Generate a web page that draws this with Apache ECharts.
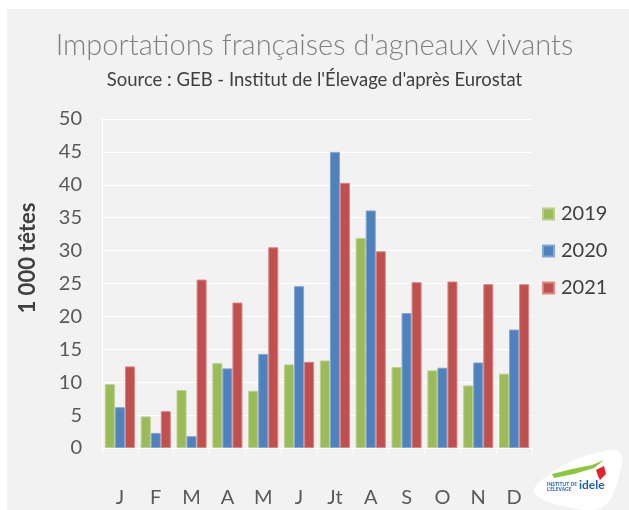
<!DOCTYPE html>
<html>
<head>
<meta charset="utf-8">
<script src="https://cdn.jsdelivr.net/npm/echarts@6/dist/echarts.min.js"></script>
<style>
  html, body { margin: 0; padding: 0; background: #ffffff; }
  #chart { width: 629px; height: 510px; }
</style>
</head>
<body>
<div id="chart"></div>
<script>
var chartDom = document.getElementById('chart');
var myChart = echarts.init(chartDom);

var months = ['J', 'F', 'M', 'A', 'M', 'J', 'Jt', 'A', 'S', 'O', 'N', 'D'];
var data2019 = [9.7, 4.8, 8.8, 12.9, 8.7, 12.7, 13.3, 31.9, 12.3, 11.8, 9.5, 11.3];
var data2020 = [6.2, 2.3, 1.8, 12.1, 14.3, 24.6, 45.0, 36.1, 20.5, 12.2, 13.0, 18.0];
var data2021 = [12.4, 5.6, 25.6, 22.1, 30.5, 13.1, 40.3, 29.9, 25.2, 25.3, 24.9, 24.9];

var font = 'Lato';

function barSeries(name, data, color, border) {
  return {
    name: name,
    type: 'bar',
    data: data,
    barGap: '0%',
    barCategoryGap: '16%',
    itemStyle: { color: color, borderColor: border, borderWidth: 1 }
  };
}

var option = {
  backgroundColor: '#ffffff',
  graphic: [
    { type: 'rect', x: 7, y: 9, shape: { width: 700, height: 600 }, style: { fill: '#f2f2f2' }, z: -10 },
    // axis title, placed like the original (above the axis middle)
    {
      type: 'text', x: 28, y: 258, rotation: Math.PI / 2,
      style: { text: '1 000 têtes', fill: '#404040', font: 'bold 22px ' + font, align: 'center', verticalAlign: 'middle' }
    },
    {
      type: 'group', x: 530, y: 448, z: 20,
      children: [
        { type: 'polygon', shape: { points: [[4, 42], [20, 26], [45, 12], [70, 4], [86, 2], [92, 8], [90, 24], [84, 44], [74, 58], [60, 62], [34, 58], [14, 52]], smooth: 0.4 }, style: { fill: '#ffffff' } },
        { type: 'polygon', shape: { points: [[22, 26], [42, 21], [62, 17], [74, 12], [64, 20], [44, 26], [24, 30]] }, style: { fill: '#8cc63f' } },
        { type: 'polygon', shape: { points: [[66, 22], [74, 18], [76, 26], [70, 32], [68, 28]] }, style: { fill: '#e3232d' } },
        { type: 'text', x: 49, y: 31, style: { text: 'idele', fill: '#1f5fa8', font: 'bold 12px ' + font } },
        { type: 'text', x: 17, y: 34, style: { text: 'INSTITUT DE\nL\'ÉLEVAGE', fill: '#1f5fa8', font: 'bold 5px ' + font } }
      ]
    }
  ],
  title: [
    {
      text: "Importations françaises d'agneaux vivants",
      left: 'center', top: 26,
      textStyle: { fontFamily: font, fontWeight: 300, fontSize: 29, color: '#808080' }
    },
    {
      text: "Source : GEB - Institut de l'Élevage d'après Eurostat",
      left: 'center', top: 66,
      textStyle: { fontFamily: font, fontWeight: 'normal', fontSize: 18.5, color: '#404040' }
    }
  ],
  legend: {
    orient: 'vertical',
    left: 537, top: 199,
    itemWidth: 11, itemHeight: 11,
    itemGap: 17,
    icon: 'rect',
    textStyle: { fontFamily: font, fontSize: 20, color: '#404040', padding: [0, 0, 0, 2] },
    data: ['2019', '2020', '2021']
  },
  grid: { left: 102, right: 97, top: 119, bottom: 62, containLabel: false },
  xAxis: {
    type: 'category',
    data: months,
    axisLine: { show: true, lineStyle: { color: '#ffffff', width: 1 } },
    axisTick: { show: true, length: 6, lineStyle: { color: '#ffffff' } },
    axisLabel: { margin: 40, fontFamily: font, fontSize: 20, color: '#595959' }
  },
  yAxis: {
    type: 'value',
    min: 0, max: 50, interval: 5,
    axisLine: { show: true, lineStyle: { color: '#ffffff' } },
    axisTick: { show: false },
    splitLine: { lineStyle: { color: '#ffffff', width: 1 } },
    axisLabel: { margin: 20, fontFamily: font, fontSize: 20, color: '#595959' }
  },
  series: [
    barSeries('2019', data2019, '#9bbb59', '#b9d08a'),
    barSeries('2020', data2020, '#4f81bd', '#84a6d2'),
    barSeries('2021', data2021, '#c0504d', '#d68684')
  ]
};

myChart.setOption(option);
window.addEventListener('resize', () => myChart.resize());
</script>
</body>
</html>
